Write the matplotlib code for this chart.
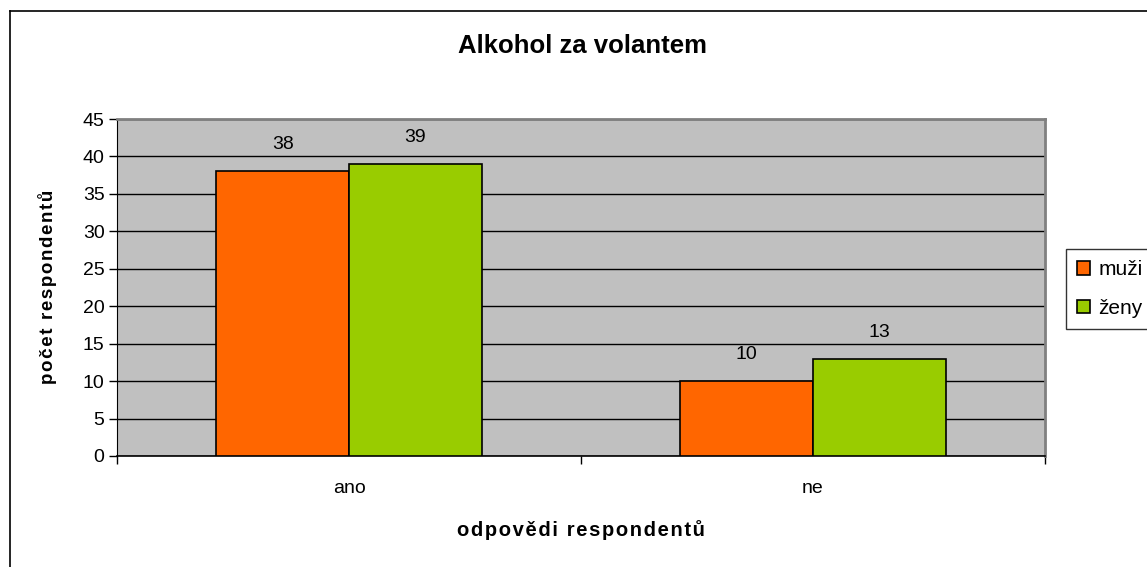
import matplotlib
matplotlib.use("Agg")
import matplotlib.pyplot as plt
from matplotlib.lines import Line2D
import numpy as np

categories = ["ano", "ne"]
series_names = ["muži", "ženy"]
muzi = [38, 10]
zeny = [39, 13]
yticks = [0, 5, 10, 15, 20, 25, 30, 35, 40, 45]

plt.rcParams['font.family'] = ['Liberation Sans', 'DejaVu Sans']


def spaced(s):
    return "\u200a".join(s)


W, H = 1147, 567
fig = plt.figure(figsize=(W / 100, H / 100), dpi=100)
fig.patch.set_facecolor("white")

# outer chart border
fig.add_artist(Line2D([10 / W, 10 / W], [0, 1 - 11 / H], color="black", lw=1.2, transform=fig.transFigure))
fig.add_artist(Line2D([10 / W, 1], [1 - 11 / H, 1 - 11 / H], color="black", lw=1.2, transform=fig.transFigure))

ax = fig.add_axes([117 / W, (H - 456) / H, 928 / W, 337 / H])
ax.set_facecolor("#C0C0C0")

x = np.arange(len(categories))
w = 1 / 3.5
colors = ["#FF6600", "#99CC00"]
b1 = ax.bar(x - w / 2, muzi, w, color=colors[0], edgecolor="black", lw=1.2, zorder=3, label=series_names[0])
b2 = ax.bar(x + w / 2, zeny, w, color=colors[1], edgecolor="black", lw=1.2, zorder=3, label=series_names[1])

for bars in (b1, b2):
    for r in bars:
        ax.annotate(f"{int(r.get_height())}", (r.get_x() + r.get_width() / 2, r.get_height()),
                    xytext=(0, 13), textcoords="offset points", ha="center", va="bottom", fontsize=14)

ax.set_xlim(-0.5, 1.5)
ax.set_ylim(0, 45)
ax.set_yticks(yticks)
ax.set_yticklabels([str(v) for v in yticks], fontsize=14)
ax.yaxis.grid(True, color="black", lw=1, zorder=1)
ax.set_axisbelow(True)

ax.set_xticks([-0.5, 0.5, 1.5])
ax.set_xticklabels([])
ax.set_xticks(x, minor=True)
ax.set_xticklabels(categories, minor=True, fontsize=14)
ax.tick_params(axis="x", which="minor", length=0, pad=17)
ax.tick_params(axis="x", which="major", length=6, direction="out", width=1)
ax.tick_params(axis="y", length=6, direction="out", width=1, pad=3)

for s in ("top", "right"):
    ax.spines[s].set_color("#808080")
    ax.spines[s].set_linewidth(2)
ax.spines["left"].set_color("black")
ax.spines["bottom"].set_color("black")
ax.spines["bottom"].set_linewidth(1.2)

fig.text(48 / W, 1 - 287 / H, spaced("počet respondentů"), ha="center", va="center", rotation=90,
         fontsize=13.5, fontweight="bold")
fig.text(581 / W, 1 - 530 / H, spaced("odpovědi respondentů"), ha="center", va="center",
         fontsize=14.5, fontweight="bold")
fig.text(582 / W, 1 - 46 / H, "Alkohol za volantem", ha="center", va="center", fontsize=18.5, fontweight="bold")

leg = fig.legend(handles=[b1, b2], labels=series_names, loc="upper left",
                 bbox_to_anchor=(1066 / W, 1 - 249 / H), frameon=True, fancybox=False,
                 edgecolor="black", fontsize=15, handlelength=0.6, handleheight=0.6,
                 handletextpad=0.4, borderpad=0.55, labelspacing=0.92, borderaxespad=0)
leg.get_frame().set_linewidth(1)

fig.savefig("out.png", dpi=100)
